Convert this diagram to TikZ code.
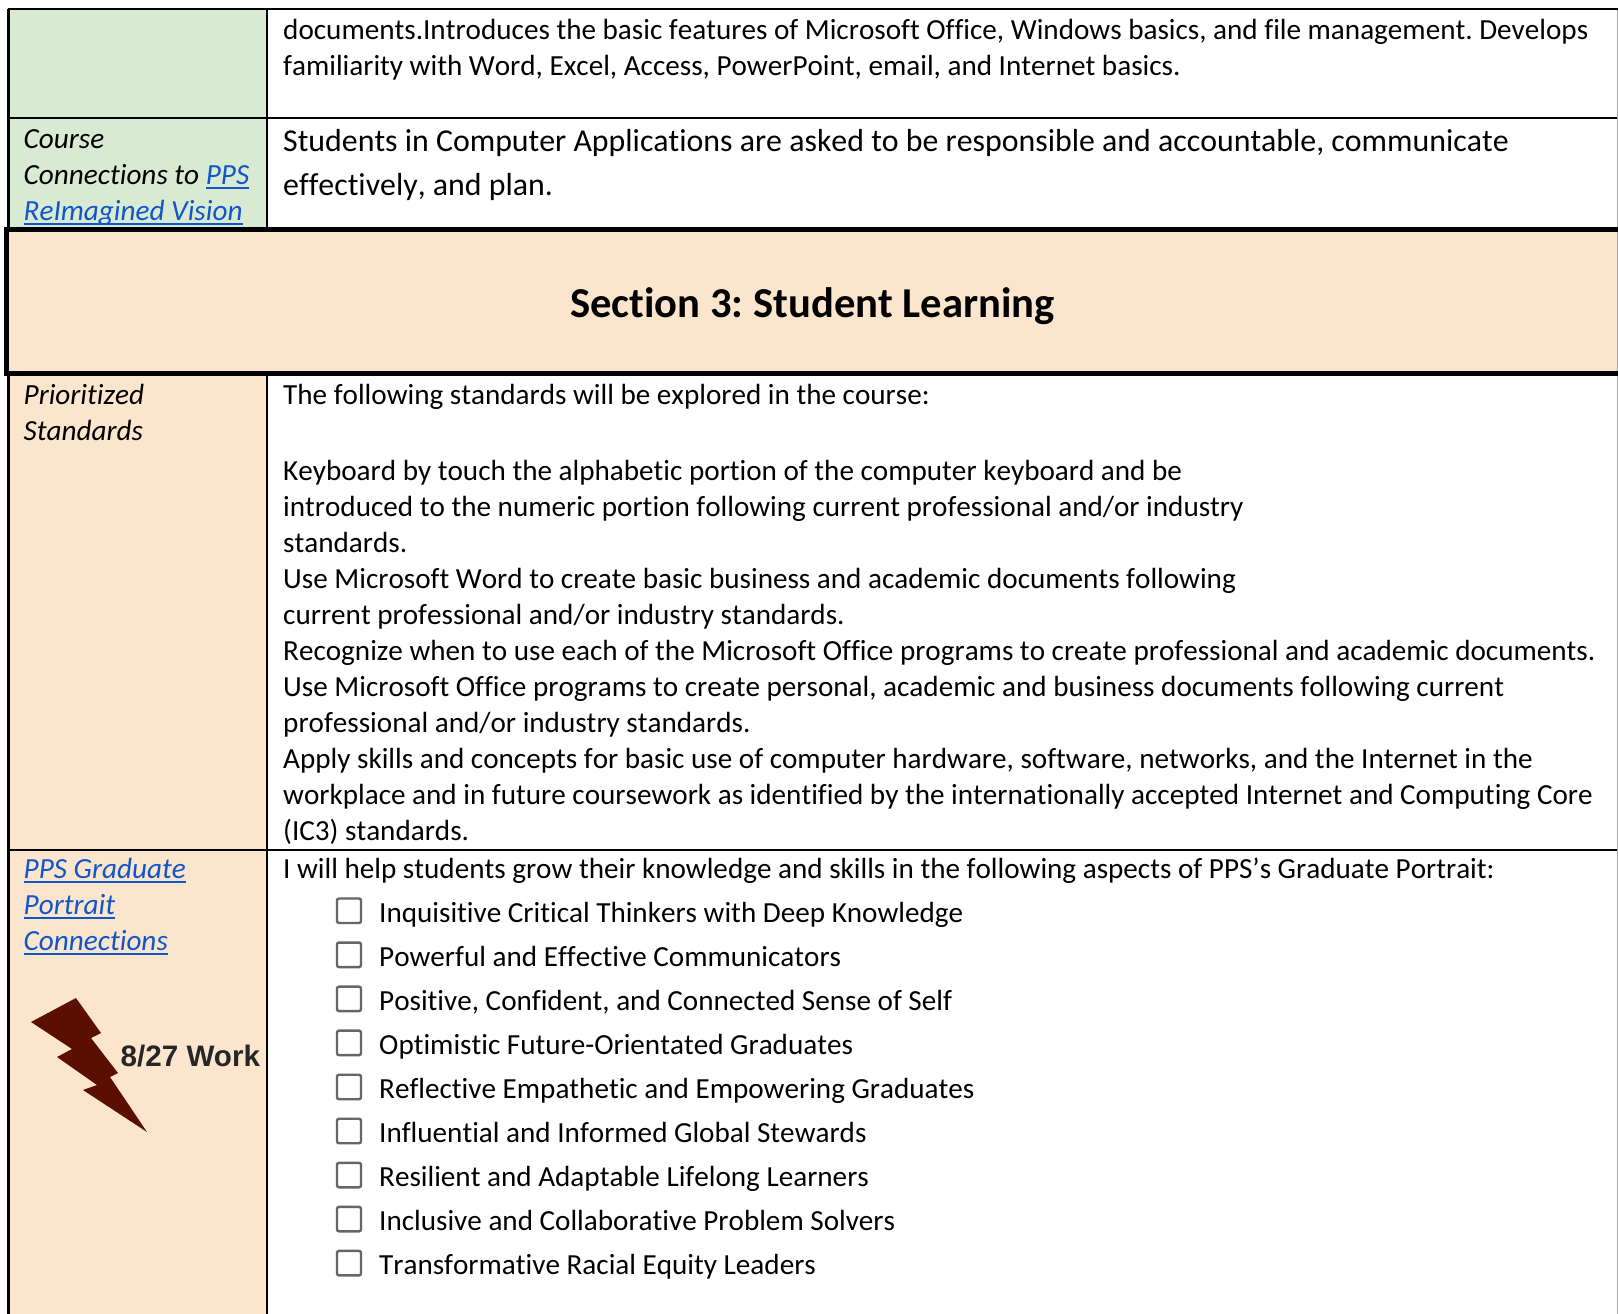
\documentclass[tikz,border=0pt]{standalone}
\usepackage{fontspec}
\setmainfont[Ligatures=NoCommon,Kerning=Off]{Carlito}
\frenchspacing
\definecolor{greenfill}{HTML}{D9EAD3}
\definecolor{peachfill}{HTML}{FCE5CD}
\definecolor{linkblue}{HTML}{1155CC}
\definecolor{boltfill}{HTML}{5B0F00}
\definecolor{boxgray}{HTML}{666666}
\newsavebox{\lnkbox}
\newcommand{\lnk}[1]{\sbox{\lnkbox}{\textcolor{linkblue}{#1}}\usebox{\lnkbox}\textcolor{linkblue}{\llap{\rule[-4.6pt]{\wd\lnkbox}{1.9pt}}}}
\newfontfamily\workfont{Liberation Sans}
\tikzset{
  x=1pt,y=-1pt,
  body/.style={anchor=base west,inner sep=0pt,yshift=-0.5pt,font=\fontsize{29.15}{34}\selectfont},
  large/.style={body,font=\fontsize{31.85}{34}\selectfont},
  side/.style={anchor=base west,inner sep=0pt,yshift=-0.5pt,font=\fontsize{29.2}{34}\itshape\selectfont},
  checkbox/.style={draw=boxgray,line width=2.4pt,rounded corners=2pt,fill=white},
  rule/.style={black,line width=2pt},
  heavy/.style={black,line width=5pt}
}
\begin{document}
\begin{tikzpicture}
\useasboundingbox (0,0) rectangle (1618,1314);
\fill[white] (0,0) rectangle (1618,1314);
\fill[greenfill] (8,10) rectangle (267,229);
\fill[peachfill] (8,229) rectangle (1618,373);
\fill[peachfill] (8,373) rectangle (267,1314);
% grid
\draw[rule] (7.5,9.3) -- (1618,9.3);
\draw[rule,line width=2.4pt] (8.5,9.3) -- (8.5,229);
\draw[rule,line width=2.4pt] (8.5,373) -- (8.5,1314);
\draw[rule] (267,9.3) -- (267,229);
\draw[rule] (267,373) -- (267,1314);
\draw[rule] (8,118) -- (1618,118);
\draw[rule] (8,849.5) -- (1618,849.5);
\draw[gray!70,line width=0.9pt] (1617.4,10) -- (1617.4,1314);
\draw[heavy] (4.3,229) -- (1618,229);
\draw[heavy] (4.3,373) -- (1618,373);
\draw[black,line width=4.6pt] (6.6,229) -- (6.6,373);
% text
\node[body] (t1) at (283,39) {documents.Introduces the basic features of Microsoft Office, Windows basics, and file management. Develops};
\node[body] (t2) at (283,75) {familiarity with Word, Excel, Access, PowerPoint, email, and Internet basics.};
\node[large] (t3) at (283,151) {Students in Computer Applications are asked to be responsible and accountable, communicate};
\node[large] (t4) at (283,195) {effectively, and plan.};
\node[side] (s1) at (23.5,148) {Course};
\node[side] (s2) at (23.5,184) {Connections to \lnk{PPS}};
\node[side] (s3) at (23.5,220) {\lnk{ReImagined Vision}};
\node[anchor=base,inner sep=0pt,font=\fontsize{42.6}{44}\bfseries\selectfont] (head) at (812.5,317.5) {Section 3: Student Learning};
\node[side] (s4) at (23.5,404) {Prioritized};
\node[side] (s5) at (23.5,440) {Standards};
\node[body] (b1) at (283,404) {The following standards will be explored in the course:};
\node[body] (b2) at (283,480) {Keyboard by touch the alphabetic portion of the computer keyboard and be};
\node[body] (b3) at (283,516) {introduced to the numeric portion following current professional and/or industry};
\node[body] (b4) at (283,552) {standards.};
\node[body] (b5) at (283,588) {Use Microsoft Word to create basic business and academic documents following};
\node[body] (b6) at (283,624) {current professional and/or industry standards.};
\node[body] (b7) at (283,660) {Recognize when to use each of the Microsoft Office programs to create professional and academic documents.};
\node[body] (b8) at (283,696) {Use Microsoft Office programs to create personal, academic and business documents following current};
\node[body] (b9) at (283,732) {professional and/or industry standards.};
\node[body] (b10) at (283,768) {Apply skills and concepts for basic use of computer hardware, software, networks, and the Internet in the};
\node[body] (b11) at (283,804) {workplace and in future coursework as identified by the internationally accepted Internet and Computing Core};
\node[body] (b12) at (283,840) {(IC3) standards.};
\node[side] (s6) at (23.5,878) {\lnk{PPS Graduate}};
\node[side] (s7) at (23.5,914) {\lnk{Portrait}};
\node[side] (s8) at (23.5,950) {\lnk{Connections}};
\node[body] (g0) at (283,878) {I will help students grow their knowledge and skills in the following aspects of PPS’s Graduate Portrait:};
\foreach \i [count=\n from 0] in {
 Inquisitive Critical Thinkers with Deep Knowledge,
 Powerful and Effective Communicators,
 {Positive, Confident, and Connected Sense of Self},
 Optimistic Future-Orientated Graduates,
 Reflective Empathetic and Empowering Graduates,
 Influential and Informed Global Stewards,
 Resilient and Adaptable Lifelong Learners,
 Inclusive and Collaborative Problem Solvers,
 Transformative Racial Equity Leaders}{
  \pgfmathsetmacro{\yb}{922+44.05*\n}
  \draw[checkbox] (337,{\yb-23.5}) rectangle (361,{\yb+1});
  \node[body] (c\n) at (379,\yb) {\i};
}
% bolt
\fill[boltfill] (76,998) -- (31,1022) -- (72,1049) -- (57,1057) -- (97,1085) -- (83,1090) -- (147,1132) -- (110,1077) -- (118,1073) -- (91,1038) -- (101,1033) -- cycle;
\node[anchor=base west,inner sep=0pt,text=black!85,font=\fontsize{29.6}{34}\workfont\bfseries\selectfont] (w) at (120.5,1066) {8/27 Work};
\end{tikzpicture}
\end{document}
